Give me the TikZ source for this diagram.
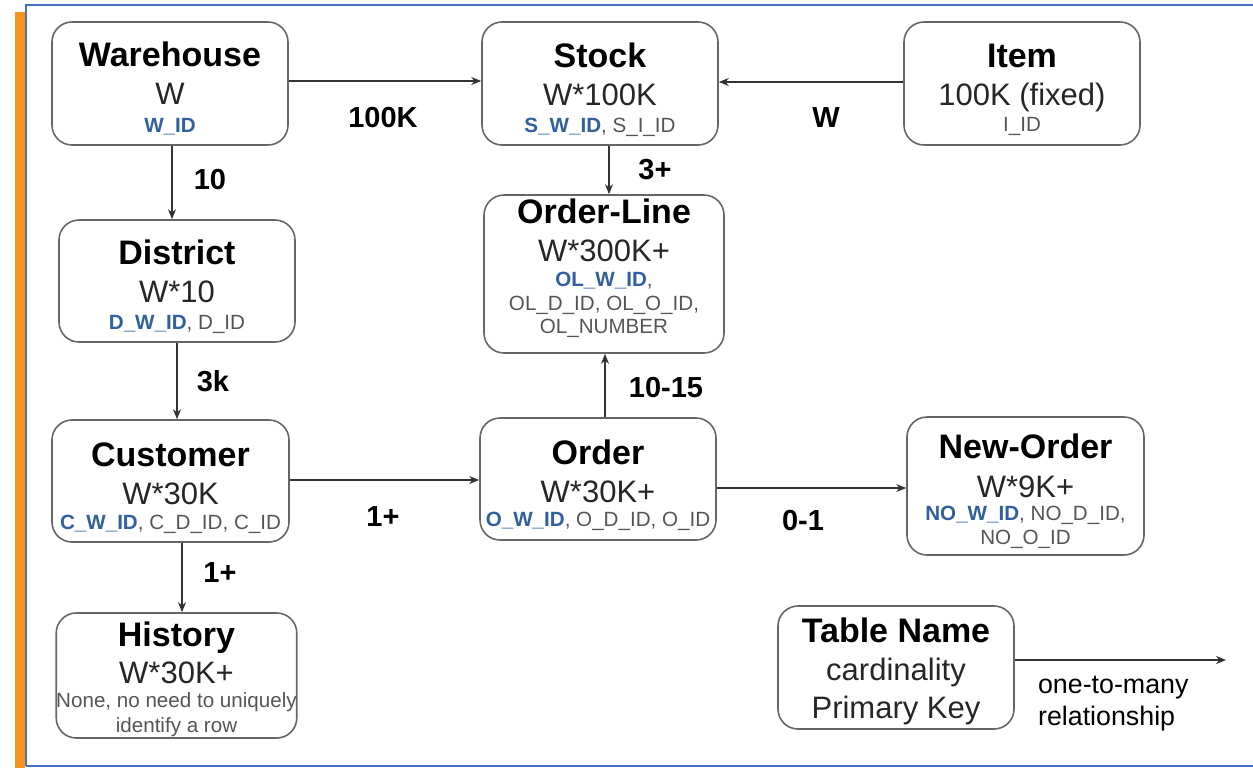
\documentclass[tikz,border=0pt]{standalone}
\usepackage{fontspec}
\setmainfont{Liberation Sans}
\usetikzlibrary{arrows.meta}
\definecolor{keyblue}{HTML}{30609E}
\definecolor{keygray}{HTML}{555555}
\definecolor{boxgray}{HTML}{666666}
\definecolor{framebl}{HTML}{4472C4}
\definecolor{barorange}{HTML}{F7941D}
% #1: height of the first line (moves the text block), #2: title
\newcommand{\tabtitle}[2]{{\fontsize{17}{19}\selectfont\bfseries\rule{0pt}{#1}#2}}
\newcommand{\tabcard}[1]{{\fontsize{15.5}{19}\selectfont\color{black!85}#1}}
\newcommand{\keyb}[1]{{\color{keyblue}\bfseries #1}}
\newcommand{\keyg}[1]{{\color{keygray}#1}}
\newcommand{\botfix}[1]{\rule[-#1]{0pt}{0pt}}
\tikzset{
  tbl/.style={draw=boxgray, line width=0.8pt, rounded corners=10pt, align=center,
    inner sep=0pt, font=\fontsize{10.3}{19}\selectfont},
  conn/.style={draw=black!80, line width=0.7pt, -{Stealth[length=5pt,width=4pt]}},
  card/.style={font=\fontsize{14.5}{16}\selectfont\bfseries},
  legtext/.style={font=\fontsize{13.4}{16}\selectfont, align=left, anchor=west}
}
\begin{document}
\begin{tikzpicture}[x=0.5pt,y=-0.5pt]
\useasboundingbox (0,0) rectangle (1253,768);
% frame
\fill[barorange] (15,12) rectangle (25,768);
\draw[framebl, line width=1pt] (26,766) -- (26,5) -- (1253,5);
\draw[framebl, line width=1pt] (26,766) -- (1253,766);
% tables
\node[tbl, minimum width=118pt, minimum height=61.5pt] (wh) at (170,83.5)
  {\tabtitle{19pt}{Warehouse}\\\tabcard{W}\\[-5pt]\keyb{W\_ID}\botfix{3.5pt}};
\node[tbl, minimum width=118pt, minimum height=61.5pt] (stock) at (600,83.5)
  {\tabtitle{19.5pt}{Stock}\\\tabcard{W*100K}\\[-5.5pt]\keyb{S\_W\_ID}\keyg{, S\_I\_ID}\botfix{3.5pt}};
\node[tbl, minimum width=118pt, minimum height=61.5pt] (item) at (1022,83.5)
  {\tabtitle{19pt}{Item}\\\tabcard{100K (fixed)}\\[-6pt]\keyg{I\_ID}\botfix{3.5pt}};
\node[tbl, minimum width=118pt, minimum height=61pt] (dist) at (177,281)
  {\tabtitle{19pt}{District}\\\tabcard{W*10}\\[-5.5pt]\keyb{D\_W\_ID}\keyg{, D\_ID}\botfix{3.5pt}};
\node[tbl, minimum width=120pt, minimum height=79pt] (ol) at (604,274)
  {\tabtitle{12.5pt}{Order-Line}\\\tabcard{W*300K+}\\[-6.5pt]\keyb{OL\_W\_ID}\keyg{,}\\[-7pt]\keyg{OL\_D\_ID, OL\_O\_ID,}\\[-7.5pt]\keyg{OL\_NUMBER}\botfix{8.5pt}};
\node[tbl, minimum width=118.5pt, minimum height=61pt] (cust) at (170.5,481)
  {\tabtitle{20pt}{Customer}\\\tabcard{W*30K}\\[-6.5pt]\keyb{C\_W\_ID}\keyg{, C\_D\_ID, C\_ID}\botfix{3.5pt}};
\node[tbl, minimum width=118pt, minimum height=61pt] (order) at (598,479)
  {\tabtitle{19.5pt}{Order}\\\tabcard{W*30K+}\\[-7pt]\keyb{O\_W\_ID}\keyg{, O\_D\_ID, O\_ID}\botfix{3.5pt}};
\node[tbl, minimum width=118.5pt, minimum height=69pt] (neword) at (1025.5,486)
  {\tabtitle{18pt}{New-Order}\\[0.5pt]\tabcard{W*9K+}\\[-7.5pt]\keyb{NO\_W\_ID}\keyg{, NO\_D\_ID,}\\[-7pt]\keyg{NO\_O\_ID}\botfix{3pt}};
\node[tbl, minimum width=118.5pt, minimum height=62.5pt] (hist) at (176.5,675.5)
  {\tabtitle{15.7pt}{History}\\[-0.5pt]\tabcard{W*30K+}\\[-7pt]\keyg{None, no need to uniquely}\\[-6.5pt]\keyg{identify a row}\botfix{2pt}};
\node[tbl, minimum width=118pt, minimum height=61.5pt] (legend) at (896,667.5)
  {\tabtitle{16pt}{Table Name}\\\tabcard{cardinality}\\\tabcard{Primary Key}\botfix{3.5pt}};
% connectors
\draw[conn] (wh.east |- 0,81) -- (stock.west |- 0,81);
\draw[conn] (item.west |- 0,82) -- (stock.east |- 0,82);
\draw[conn] (wh.south -| 172,0) -- (dist.north -| 172,0);
\draw[conn] (stock.south -| 609,0) -- (ol.north -| 609,0);
\draw[conn] (dist.south -| 177,0) -- (cust.north -| 177,0);
\draw[conn] (order.north -| 605,0) -- (ol.south -| 605,0);
\draw[conn] (cust.east |- 0,480) -- (order.west |- 0,480);
\draw[conn] (order.east |- 0,488) -- (neword.west |- 0,488);
\draw[conn] (cust.south -| 182,0) -- (hist.north -| 182,0);
\coordinate (legendend) at (1226,660);
\draw[conn] (legend.east |- legendend) -- (legendend);
% labels
\node[card] (l1) at (383,118) {100K};
\node[card] (l2) at (826,118) {W};
\node[card] (l3) at (210,180) {10};
\node[card] (l4) at (655,170) {3+};
\node[card] (l5) at (213,381) {3k};
\node[card] (l6) at (666,388) {10-15};
\node[card] (l7) at (383,517) {1+};
\node[card] (l8) at (803,521) {0-1};
\node[card] (l9) at (220,573) {1+};
\node[legtext] (l10) at (1031,704) {one-to-many\\relationship};
\end{tikzpicture}
\end{document}
